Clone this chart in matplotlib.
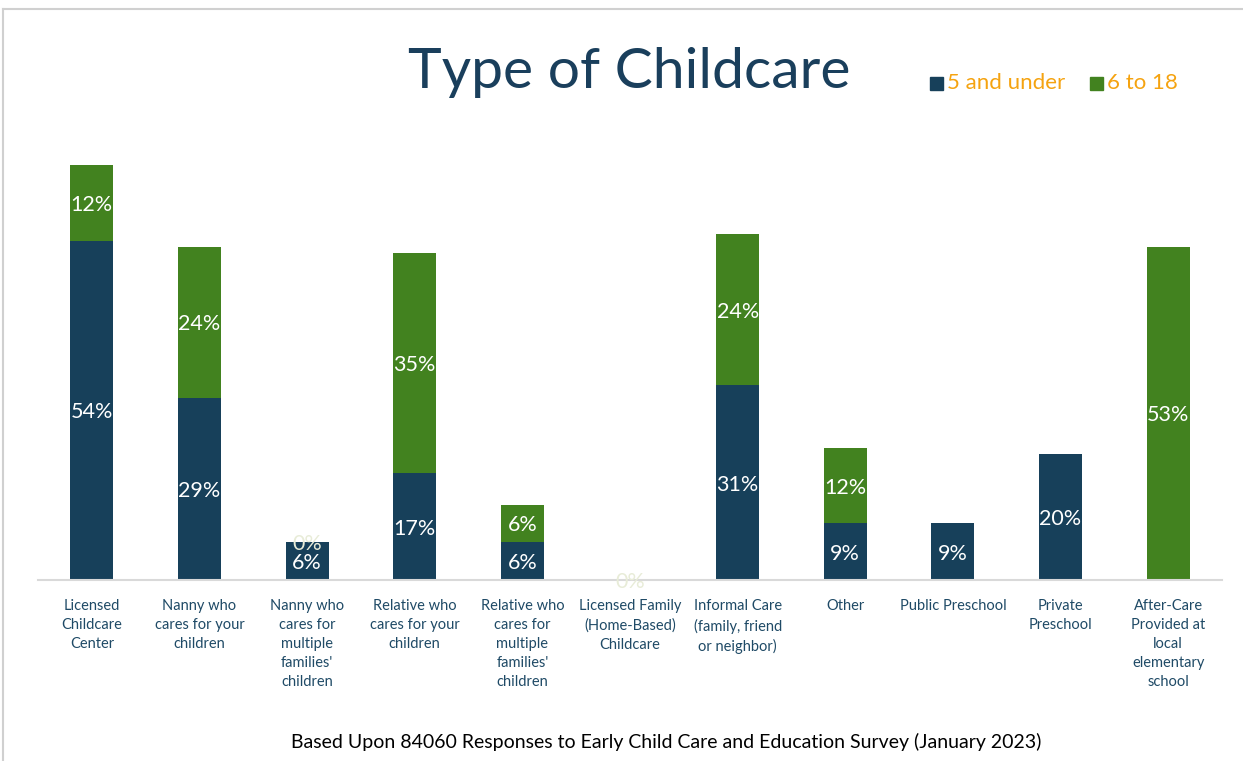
import matplotlib.pyplot as plt
import numpy as np
from matplotlib.lines import Line2D

plt.rcParams['font.family'] = ['Lato', 'DejaVu Sans']

# Survey results, percent of responses
categories = ['Licensed\nChildcare\nCenter', 'Nanny who\ncares for your\nchildren',
              "Nanny who\ncares for\nmultiple\nfamilies'\nchildren",
              'Relative who\ncares for your\nchildren',
              "Relative who\ncares for\nmultiple\nfamilies'\nchildren",
              'Licensed Family\n(Home-Based)\nChildcare',
              'Informal Care\n(family, friend\nor neighbor)',
              'Other', 'Public Preschool', 'Private\nPreschool',
              'After-Care\nProvided at\nlocal\nelementary\nschool']
under5 = [54, 29, 6, 17, 6, 0, 31, 9, 9, 20, 0]
age6_18 = [12, 24, 0, 35, 6, 0, 24, 12, 0, 0, 53]
# which zero-valued segments still carry a label
under5_zero_shown = [5]
age6_18_zero_shown = [2]

navy = '#17405a'
green = '#42821f'
label_col = '#1f4a66'
pale = '#e8ecd8'

fig = plt.figure(figsize=(12.43, 7.61), dpi=100)
ax = fig.add_axes([38/1243, 181/761, 1184/1243, 440/761])

x = np.arange(len(categories))
ax.bar(x, under5, width=0.4, color=navy)
ax.bar(x, age6_18, width=0.4, bottom=under5, color=green)

for i in x:
    if under5[i] > 0 or i in under5_zero_shown:
        col = 'white' if under5[i] > 0 else pale
        ax.text(i, under5[i] / 2, '%d%%' % under5[i], ha='center',
                va='center_baseline', color=col, fontsize=15.5)
    if age6_18[i] > 0 or i in age6_18_zero_shown:
        col = 'white' if age6_18[i] > 0 else pale
        ax.text(i, under5[i] + age6_18[i] / 2, '%d%%' % age6_18[i], ha='center',
                va='center_baseline', color=col, fontsize=15.5)

ax.set_xlim(-0.5, len(categories) - 0.5)
ax.set_ylim(0, 70)
ax.set_yticks([])
ax.set_xticks(x)
ax.set_xticklabels(categories, fontsize=10.5, color=label_col, linespacing=1.45,
                   va='top')
ax.tick_params(axis='x', length=0, pad=14)
for s in ['top', 'right', 'left']:
    ax.spines[s].set_visible(False)
ax.spines['bottom'].set_color('#d9d9d9')
ax.spines['bottom'].set_linewidth(1.5)

fig.text(629/1243, 1 - 73/761, 'Type of Childcare', ha='center', va='center',
         fontsize=41, color='#1a3f5c')

# legend
fig.patches.append(plt.Rectangle((930/1243, 1 - 90/761), 13/1243, 13/761,
                                 transform=fig.transFigure, color=navy))
fig.text(947/1243, 1 - 83/761, '5 and under', va='center', fontsize=16, color='#f5a310')
fig.patches.append(plt.Rectangle((1090/1243, 1 - 90/761), 13/1243, 13/761,
                                 transform=fig.transFigure, color=green))
fig.text(1107/1243, 1 - 83/761, '6 to 18', va='center', fontsize=16, color='#f5a310')

fig.text(666/1243, 1 - 742/761,
         'Based Upon 84060 Responses to Early Child Care and Education Survey (January 2023)',
         ha='center', va='center', fontsize=14, color='black')

# outer frame
fig.add_artist(Line2D([3/1243, 1], [1 - 9/761, 1 - 9/761], color='#d0d0d0', lw=1.5))
fig.add_artist(Line2D([3/1243, 3/1243], [0, 1 - 9/761], color='#d0d0d0', lw=1.5))

fig.savefig('out.png')
